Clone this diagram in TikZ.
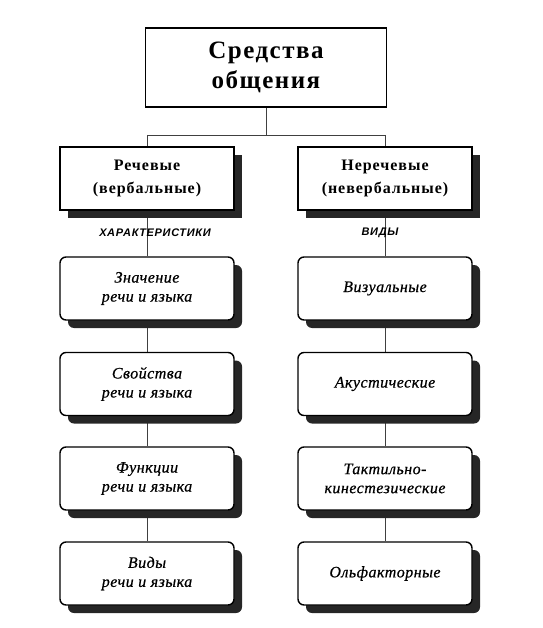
\documentclass[tikz,border=0pt]{standalone}
\usepackage{fontspec}
\setmainfont{Liberation Serif}
\newfontfamily\labfont[LetterSpace=6]{Liberation Sans}
\newfontfamily\spacedserif[LetterSpace=6]{Liberation Serif}
\newfontfamily\itserif[LetterSpace=3,FakeBold=0.6]{Liberation Serif}
\usetikzlibrary{shadows,backgrounds}
\begin{document}
\begin{tikzpicture}[x=1pt,y=1pt,
  topbox/.style={draw, line width=1.8pt, minimum width=241pt, minimum height=79pt, align=center,
    font=\spacedserif\fontsize{25}{30}\selectfont\bfseries},
  midbox/.style={draw, line width=1.5pt, fill=white, minimum width=174pt, minimum height=63pt, align=center,
    font=\spacedserif\fontsize{16}{23}\selectfont\bfseries,
    drop shadow={shadow xshift=8pt, shadow yshift=-8pt, fill=black!85, opacity=1}},
  leafbox/.style={draw, line width=1.4pt, fill=white, rounded corners=6pt, minimum width=174pt, minimum height=63pt, align=center,
    font=\itserif\fontsize{16}{19}\selectfont\itshape,
    drop shadow={shadow xshift=8pt, shadow yshift=-8pt, fill=black!85, opacity=1}},
  lab/.style={font=\labfont\fontsize{11}{13}\selectfont\bfseries\itshape},
  conn/.style={draw, line width=0.8pt, black!75}]
\useasboundingbox (0,0) rectangle (542,-628);
\coordinate (hL) at (147,-135);
\coordinate (hR) at (385,-135);
\coordinate (hM) at (266,-135);
\node[topbox] (top) at (266,-67.5) {Средства\\общения};
\node[midbox] (L0) at (147,-178.5) {Речевые\\(вербальные)};
\node[midbox] (R0) at (385,-178.5) {Неречевые\\(невербальные)};
\node[leafbox] (L1) at (147,-288.5) {Значение\\речи и языка};
\node[leafbox] (L2) at (147,-384) {Свойства\\речи и языка};
\node[leafbox] (L3) at (147,-478.5) {Функции\\речи и языка};
\node[leafbox] (L4) at (147,-573.5) {Виды\\речи и языка};
\node[leafbox] (R1) at (385,-288.5) {Визуальные};
\node[leafbox] (R2) at (385,-384) {Акустические};
\node[leafbox] (R3) at (385,-478.5) {Тактильно-\\кинестезические};
\node[leafbox] (R4) at (385,-573.5) {Ольфакторные};
\begin{scope}[on background layer]
\draw[conn] (top.south) -- (hM);
\draw[conn] (hL) -- (hR);
\draw[conn] (hL) -- (L0.north);
\draw[conn] (hR) -- (R0.north);
\draw[conn] (L0.south) -- (L1.north);
\draw[conn] (L1.south) -- (L2.north);
\draw[conn] (L2.south) -- (L3.north);
\draw[conn] (L3.south) -- (L4.north);
\draw[conn] (R0.south) -- (R1.north);
\draw[conn] (R1.south) -- (R2.north);
\draw[conn] (R2.south) -- (R3.north);
\draw[conn] (R3.south) -- (R4.north);
\end{scope}
\node[lab] (labL) at (155,-233) {ХАРАКТЕРИСТИКИ};
\node[lab] (labR) at (380,-233) {ВИДЫ};
\end{tikzpicture}
\end{document}
